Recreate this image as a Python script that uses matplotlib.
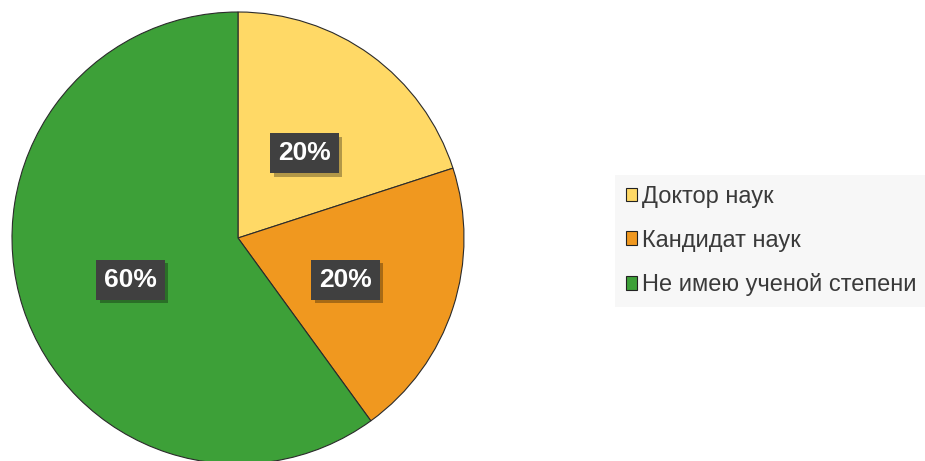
import matplotlib.pyplot as plt
import matplotlib.patheffects as pe

plt.rcParams['font.family'] = ['Liberation Sans', 'DejaVu Sans']

labels = ['Доктор наук', 'Кандидат наук', 'Не имею ученой степени']
values = [20, 20, 60]
colors = ['#FFD966', '#F0981F', '#3DA038']

W, H = 925, 461
fig = plt.figure(figsize=(W / 100, H / 100), dpi=100)
cx, cy, r = 238, 238, 226
ax = fig.add_axes([(cx - r) / W, (H - cy - r) / H, 2 * r / W, 2 * r / H])

wedges, texts, autotexts = ax.pie(
    values, colors=colors, startangle=90, counterclock=False,
    autopct='%1.0f%%', pctdistance=0.5,
    wedgeprops=dict(edgecolor='#2b2b2b', linewidth=0.8),
    textprops=dict(color='white', fontsize=19, fontweight='bold'))
ax.set_xlim(-1, 1)
ax.set_ylim(-1, 1)
ax.set_aspect('equal')

for t in autotexts:
    x, y = t.get_position()
    t.set_position((x, y - 0.03))
    t.set_bbox(dict(boxstyle='square,pad=0.3', facecolor='#404040', edgecolor='none'))
    t.get_bbox_patch().set_path_effects([
        pe.withSimplePatchShadow(offset=(2.5, -2.5), shadow_rgbFace='black', alpha=0.3),
        pe.Normal()])

leg = fig.legend(wedges, labels, loc='center left',
                 bbox_to_anchor=(615 / W, 1 - 241 / H),
                 frameon=True, fontsize=17, labelspacing=0.92,
                 handlelength=0.5, handleheight=0.5, handletextpad=0.2,
                 borderpad=0.45, borderaxespad=0)
leg.get_frame().set_facecolor('#F6F6F6')
leg.get_frame().set_edgecolor('none')
leg.get_frame().set_boxstyle('square', pad=0)
for h in leg.legend_handles:
    h.set_edgecolor('#222222')
    h.set_linewidth(0.8)
for t in leg.get_texts():
    t.set_color('#3a3a3a')

fig.savefig('out.png', dpi=100)
